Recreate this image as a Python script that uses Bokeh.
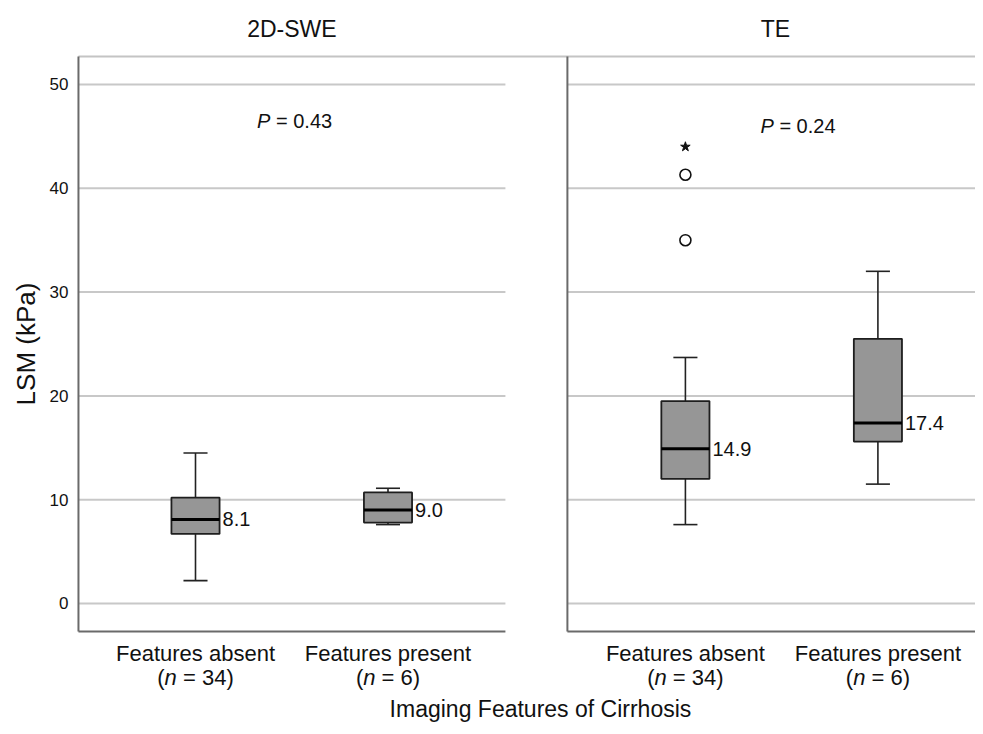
import math
from bokeh.plotting import figure
from bokeh.models import Range1d, Label
from bokeh.embed import file_html
from bokeh.resources import INLINE

# ---------------- data ----------------
panels = ["2D-SWE", "TE"]
categories = ["Features absent", "Features present"]
n_counts = [34, 6]
p_values = ["0.43", "0.24"]

# per panel: [features absent, features present]
whisker_low = [[2.2, 7.6], [7.6, 11.5]]
q1 = [[6.7, 7.8], [12.0, 15.6]]
median = [[8.1, 9.0], [14.9, 17.4]]
q3 = [[10.2, 10.7], [19.5, 25.5]]
whisker_high = [[14.5, 11.1], [23.7, 32.0]]

# outliers (TE, features absent)
outlier_panel = 1
outlier_cat = 0
outliers_mild = [35.0, 41.3]
outliers_extreme = [44.0]

y_ticks = [0, 10, 20, 30, 40, 50]
y_title = "LSM (kPa)"
x_title = "Imaging Features of Cirrhosis"

# ---------------- layout ----------------
FONT = "Liberation Sans"
TXT = "#111111"
panel_offset = [0.0, 2.545]
panel_left = [0.392, 2.932]
panel_right = [2.610, 5.06]
box_w = 0.25
cap_w = 0.125
y_frame_bottom = -2.7
y_frame_top = 52.7

# Arial-like advance widths (em) for placing mixed italic text
CW = {"(": .333, ")": .333, "n": .556, " ": .278, "=": .584, "P": .667, ".": .278}
def tw(s, size):
    return sum(CW.get(c, .556) for c in s) * size

p = figure(width=975, height=726, output_backend="svg", toolbar_location=None,
           x_range=Range1d(-0.013, 5.052), y_range=Range1d(-11.85, 58.09),
           min_border=0)
p.outline_line_color = None
p.grid.visible = False
p.axis.visible = False
p.background_fill_color = "white"
p.border_fill_color = "white"

def label(x, y, text, size, align="center", style="normal", x_offset=0, angle=0):
    p.add_layout(Label(x=x, y=y, x_offset=x_offset, text=text, text_font=FONT,
                       text_font_size=f"{size}px", text_font_style=style, text_align=align,
                       text_baseline="middle", text_color=TXT, angle=angle))

# top border
p.segment(x0=[panel_left[0]], x1=[panel_right[1]], y0=[y_frame_top], y1=[y_frame_top],
          line_color="#c4c4c4", line_width=2)

# y axis tick labels and title
for t in y_ticks:
    label(panel_left[0], t, str(t), 17, align="right", x_offset=-10)
label(0.122, 25.0, y_title, 26, angle=math.pi / 2)

for k in range(2):
    # gridlines
    p.segment(x0=[panel_left[k]] * len(y_ticks), x1=[panel_right[k]] * len(y_ticks),
              y0=y_ticks, y1=y_ticks, line_color="#c8c8c8", line_width=2)
    # frame lines
    p.segment(x0=[panel_left[k]], x1=[panel_right[k]], y0=[y_frame_bottom], y1=[y_frame_bottom],
              line_color="#6a6a6a", line_width=2)
    p.segment(x0=[panel_left[k]], x1=[panel_left[k]], y0=[y_frame_bottom], y1=[y_frame_top],
              line_color="#6a6a6a", line_width=2)

    xs = [panel_offset[k] + 1 + i for i in range(2)]
    # whiskers
    p.segment(x0=xs, x1=xs, y0=q3[k], y1=whisker_high[k], line_color="#222222", line_width=1.6)
    p.segment(x0=xs, x1=xs, y0=whisker_low[k], y1=q1[k], line_color="#222222", line_width=1.6)
    p.segment(x0=[x - cap_w / 2 for x in xs], x1=[x + cap_w / 2 for x in xs],
              y0=whisker_high[k], y1=whisker_high[k], line_color="#222222", line_width=1.6)
    p.segment(x0=[x - cap_w / 2 for x in xs], x1=[x + cap_w / 2 for x in xs],
              y0=whisker_low[k], y1=whisker_low[k], line_color="#222222", line_width=1.6)
    # boxes
    p.vbar(x=xs, width=box_w, bottom=q1[k], top=q3[k], fill_color="#969696",
           line_color="#1e1e1e", line_width=1.8)
    # medians
    p.segment(x0=[x - box_w / 2 for x in xs], x1=[x + box_w / 2 for x in xs],
              y0=median[k], y1=median[k], line_color="#000000", line_width=3)
    for i in range(2):
        label(xs[i] + box_w / 2, median[k][i], f"{median[k][i]:.1f}", 20, align="left", x_offset=3)
        # category labels
        label(xs[i], -4.77, categories[i], 22)
        size = 22
        rest = f"= {n_counts[i]})"
        total = tw("(n " + rest, size)
        start = -total / 2
        label(xs[i], -7.13, "(", size, align="left", x_offset=start)
        label(xs[i], -7.13, "n", size, align="left", style="italic", x_offset=start + tw("(", size))
        label(xs[i], -7.13, rest, size, align="left", x_offset=start + tw("(n ", size))

    # panel title
    cx = (panel_left[k] + [panel_right[0], 5.093][k]) / 2
    label(cx, 55.39, panels[k], 23)
    # P value
    px = panel_offset[k] + 1 + [0.32, 0.39][k]
    py = [46.5, 46.0][k]
    label(px, py, "P", 20, align="left", style="italic")
    label(px, py, f"= {p_values[k]}", 20, align="left", x_offset=tw("P ", 20))

# outliers
ox = panel_offset[outlier_panel] + 1 + outlier_cat
p.scatter(x=[ox] * len(outliers_mild), y=outliers_mild, marker="circle", size=11,
          fill_color="white", line_color="#111111", line_width=1.6)
p.scatter(x=[ox] * len(outliers_extreme), y=outliers_extreme, marker="star", size=10,
          fill_color="#111111", line_color="#111111")

# x-axis title
label(2.792, -10.15, x_title, 23)

open("out.html", "w").write(file_html(p, INLINE))
